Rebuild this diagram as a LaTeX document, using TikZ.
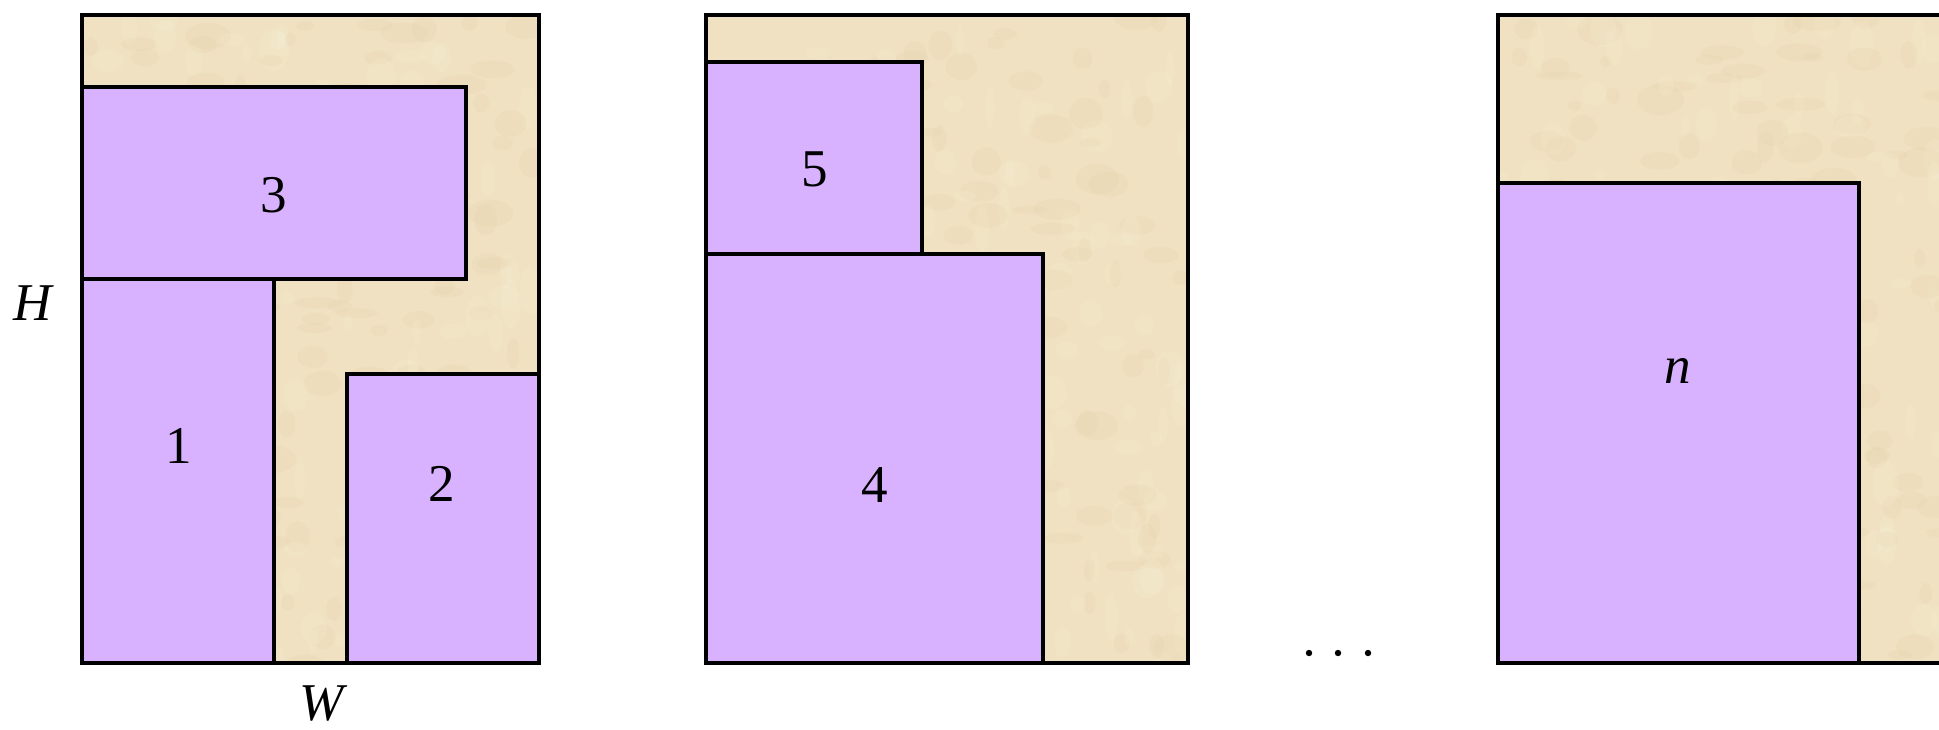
\documentclass[tikz,border=0pt]{standalone}
\usepackage{fontspec}
\setmainfont{Liberation Serif}
\definecolor{parch}{RGB}{239,225,193}
\definecolor{parchdark}{RGB}{226,203,160}
\definecolor{parchlight}{RGB}{248,240,216}
\definecolor{lilac}{RGB}{217,178,255}
\begin{document}
\begin{tikzpicture}[x=0.01cm,y=-0.01cm,
  item/.style={fill=lilac,draw=black,line width=0.035cm,line join=miter},
  frame/.style={draw=black,line width=0.04cm,line join=miter},
  lbl/.style={anchor=base,inner sep=0pt,font=\fontsize{15.1}{18}\selectfont},
  dotmark/.style={circle,fill=black,inner sep=0pt,minimum size=0.064cm}]
\useasboundingbox (0,0) rectangle (1939,729);
\fill[white] (0,0) rectangle (1939,729);
\pgfmathsetseed{7}
% parchment sheets with a fine mottled texture
\foreach \bx/\ex in {82/539,706/1188,1498/1960}{
  \begin{scope}
    \clip (\bx,15) rectangle (\ex,663);
    \fill[parch] (\bx,15) rectangle (\ex,663);
    \foreach \i in {1,...,140}{
      \pgfmathsetmacro{\rx}{\bx+rnd*(\ex-\bx)}
      \pgfmathsetmacro{\ry}{15+rnd*648}
      \pgfmathsetmacro{\ra}{0.05+rnd*0.2}
      \pgfmathsetmacro{\rb}{0.04+rnd*0.12}
      \fill[parchdark,opacity=0.14] (\rx,\ry) ellipse [x radius=\ra cm, y radius=\rb cm];
      \pgfmathsetmacro{\sx}{\bx+rnd*(\ex-\bx)}
      \pgfmathsetmacro{\sy}{15+rnd*648}
      \fill[parchlight,opacity=0.2] (\sx,\sy) ellipse [x radius=\rb cm, y radius=\ra cm];
    }
  \end{scope}
}
% first bin
\draw[item] (82,87) rectangle (466,279);
\draw[item] (82,279) rectangle (274,663);
\draw[item] (347,374) rectangle (539,663);
\draw[frame] (82,15) rectangle (539,663);
% second bin
\draw[item] (706,62) rectangle (922,254);
\draw[item] (706,254) rectangle (1043,663);
\draw[frame] (706,15) rectangle (1188,663);
% last bin
\draw[item] (1498,183) rectangle (1859,663);
\draw[frame] (1960,15) -- (1498,15) -- (1498,663) -- (1960,663);
% labels
\node[lbl] (l3) at (274,212) {3};
\node[lbl] (l1) at (179,463) {1};
\node[lbl] (l2) at (442,501) {2};
\node[lbl] (l5) at (815,186) {5};
\node[lbl] (l4) at (875,502) {4};
\node[lbl] (ln) at (1678,383) {\itshape n};
\node[lbl] (lH) at (33,320) {\itshape H};
\node[lbl] (lW) at (322,720) {\itshape W};
% dots
\node[dotmark] (d1) at (1309,653) {};
\node[dotmark] (d2) at (1338,653) {};
\node[dotmark] (d3) at (1368,653) {};
\end{tikzpicture}
\end{document}
